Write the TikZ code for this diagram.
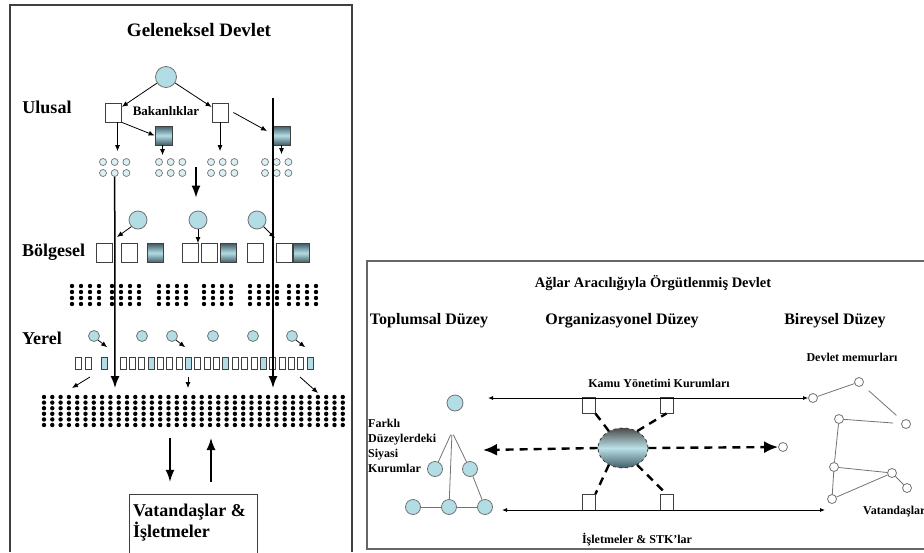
\documentclass[tikz,border=0pt]{standalone}
\usepackage{fontspec}
\setmainfont{Liberation Serif}
\usetikzlibrary{arrows.meta,positioning,shapes.geometric}
\definecolor{govcyan}{RGB}{178,221,229}
\definecolor{govslate}{RGB}{66,92,102}
\colorlet{govline}{black!55}
\colorlet{govdark}{black!75}
\colorlet{netgray}{black!60}
\tikzset{
  govtitle/.style={font=\bfseries\fontsize{19}{21}\selectfont,inner sep=0pt},
  govlabel/.style={font=\bfseries\fontsize{18}{21}\selectfont,inner sep=0pt,align=left},
  govnote/.style={font=\bfseries\fontsize{13}{15}\selectfont,inner sep=0pt},
  govbig/.style={circle,draw=govline,fill=govcyan,minimum size=21pt,inner sep=0pt,line width=0.8pt},
  govmid/.style={govbig,minimum size=18pt},
  govsmall/.style={govbig,minimum size=11pt},
  govtiny/.style={circle,draw=govline,fill=govcyan!45,minimum size=7pt,inner sep=0pt,line width=0.7pt},
  govsq/.style={rectangle,draw=govdark,fill=white,minimum width=16pt,minimum height=19pt,
                inner sep=0pt,line width=0.8pt},
  govshade/.style={govsq,top color=govslate,bottom color=govslate,middle color=govcyan},
  govslot/.style={govsq,minimum width=6pt,minimum height=12pt},
  govslotfill/.style={govslot,fill=govcyan},
  govflow/.style={-{Latex[length=6pt,width=5pt]},line width=0.8pt},
  govlong/.style={-{Latex[length=12pt,width=9pt]},line width=1.5pt},
  govframe/.style={draw=govdark,line width=1.2pt},
  govbox/.style={minimum width=127pt,minimum height=58pt,inner sep=0pt},
  nettitle/.style={font=\bfseries\fontsize{14.5}{16}\selectfont,inner sep=0pt},
  nethead/.style={font=\bfseries\fontsize{16}{18}\selectfont,inner sep=0pt},
  netnote/.style={font=\bfseries\fontsize{12}{15}\selectfont,inner sep=0pt,align=left},
  netframe/.style={draw=netgray,line width=1.6pt},
  netsoft/.style={circle,draw=govline,fill=govcyan,minimum size=16pt,inner sep=0pt,line width=0.8pt},
  netnode/.style={circle,draw=govline,fill=white,minimum size=9pt,inner sep=0pt,line width=0.8pt},
  netsq/.style={rectangle,draw=govdark,fill=white,minimum width=13pt,minimum height=16pt,
                inner sep=0pt,line width=0.8pt},
  netcore/.style={ellipse,draw=black!80,dashed,line width=0.8pt,minimum width=50pt,minimum height=40pt,
                  top color=black!70,bottom color=govslate,middle color=govcyan!90!white},
  netedge/.style={draw=govline,line width=0.8pt},
  netboth/.style={{Latex[length=5pt,width=4pt]}-{Latex[length=5pt,width=4pt]},line width=0.8pt},
  netdash/.style={line width=2.4pt,dash pattern=on 8pt off 6pt},
  netbigdash/.style={netdash,-{Latex[length=14pt,width=12pt]}}
}
\begin{document}
\begin{tikzpicture}[x=1pt,y=-1pt]
  \useasboundingbox (0,0) rectangle (924,552);

  % traditional state
  \draw[govframe] (10,552) -- (10,5) -- (352,5) -- (352,552);
  \node[govtitle] (gelTitle) at (199,30) {Geleneksel Devlet};
  \node[govlabel] (ulusal) at (47,107) {Ulusal};
  \node[govlabel,anchor=west] (bolgesel) at (22,252) {Bölgesel};
  \node[govlabel,anchor=west] (yerel) at (22,338) {Yerel};

  \node[govbig] (state) at (166,77) {};
  \node[govsq] (bak1) at (113.5,112.5) {};
  \node[govsq] (bak2) at (220,112.5) {};
  \node[govnote] (bakan) at (166,111) {Bakanlıklar};
  \node[govshade,minimum width=17pt] (bakA) at (163.5,135.5) {};
  \node[govshade,minimum width=17pt] (bakB) at (281.5,135.5) {};

  \foreach \g/\gx in {1/103,2/159,3/211,4/265}
    \foreach \c in {0,1,2}
      \foreach \r in {0,1}
        \node[govtiny] (s\g-\r-\c) at (\gx+\c*11.7,162+\r*11) {};

  \draw[govflow] (state) -- (bak1);
  \draw[govflow] (state) -- (bak2);
  \draw[govflow] (bak1.south east) -- (bakA.west);
  \coordinate (b2hit) at (267,131);
  \draw[govflow] ([xshift=5pt]bak2.east) -- (b2hit);
  \draw[govflow,shorten >=7pt] ([xshift=4pt]bak1.south) -- ([xshift=4pt]bak1.south |- s1-0-1.north);
  \draw[govflow,shorten >=3pt] ([xshift=-1pt]bakA.south) -- ([xshift=-1pt]bakA.south |- s2-0-0.north);
  \draw[govflow,shorten >=7pt] (bak2.south) -- (bak2.south |- s3-0-1.north);
  \draw[govflow,shorten >=4pt] (bakA.south -| bakB) -- (bakB |- s4-0-1.north);

  % regional level
  \node[govmid] (reg1) at (138,220) {};
  \node[govmid] (reg2) at (198,220) {};
  \node[govmid] (reg3) at (257,220) {};
  \foreach \n/\bx in {1/104.5,2/129.5,4/190,5/209,7/255,8/284}
    \node[govsq] (bsq\n) at (\bx,253) {};
  \foreach \n/\bx in {3/155.5,6/228.5,9/301}
    \node[govshade] (bsq\n) at (\bx,253) {};

  \coordinate (midtop) at (196,167);
  \draw[govlong,shorten >=13pt] (midtop) -- (midtop |- reg2.north);
  \coordinate (r1hit) at (117,237);
  \coordinate (r3hit) at (275,238);
  \draw[govflow] (reg1.225) -- (r1hit);
  \draw[govflow] (reg3.315) -- (r3hit);
  \draw[govflow] (reg2.south) -- (reg2.south |- bsq4.north);

  \foreach \gx in {72,112,159,204,250,289}
    \foreach \i in {0,...,3}
      \foreach \j in {0,...,3}
        \fill (\gx+\i*9,286+\j*6) circle (2.2);

  % local level
  \foreach \n/\yx in {1/94,2/142,3/172,4/213,5/253,6/292}
    \node[govsmall] (yer\n) at (\yx,336) {};
  \foreach \n in {1,3,6}
    \draw[govflow] (yer\n.south east) -- ([shift={(9pt,-7pt)}]yer\n.south east);
  \node[govslot] (slotA) at (78,363) {};
  \node[govslot] (slotB) at (88,363) {};
  \node[govslotfill] (slotC) at (104,363) {};
  \foreach \k in {0,...,20}
    \node[govslot] (slot\k) at (123+\k*9.35,363) {};
  \foreach \k in {3,7,11,15,20}
    \node[govslotfill] at (slot\k) {};

  \coordinate (locL1) at (90,377);
  \coordinate (locL2) at (72,388);
  \coordinate (locM1) at (188,377);
  \coordinate (locM2) at (188,388);
  \coordinate (locR1) at (300,377);
  \coordinate (locR2) at (318,393);
  \draw[govflow] (locL1) -- (locL2);
  \draw[govflow] (locM1) -- (locM2);
  \draw[govflow] (locR1) -- (locR2);

  \foreach \i in {0,...,36}
    \foreach \j in {0,...,5}
      \fill (44+\i*8.3,397+\j*5.6) circle (2.2);

  \coordinate (line1end) at (115,388);
  \coordinate (line2top) at (273,98);
  \coordinate (line2end) at (273,388);
  \draw[govlong] (s1-1-1.south) -- (line1end);
  \draw[govlong] (line2top) -- (line2end);

  % citizens
  \node[govbox] (vatbox) at (193.5,524) {};
  \draw[govframe,line width=0.9pt] (vatbox.south west) |- (vatbox.north east) -- (vatbox.south east);
  \node[govlabel,anchor=north west] (vattext) at ([shift={(3pt,-9pt)}]vatbox.north west)
    {Vatandaşlar \&\\İşletmeler};
  \coordinate (massdown) at (170,438);
  \coordinate (massup) at (211,438);
  \draw[govlong,shorten >=13pt] (massdown) -- (massdown |- vatbox.north);
  \draw[govlong,shorten <=13pt] (massup |- vatbox.north) -- (massup);

  % network state
  \draw[netframe] (367,261) rectangle (935,549);
  \node[nettitle] (agTitle) at (653,283) {Ağlar Aracılığıyla Örgütlenmiş Devlet};
  \node[nethead] (toplumsal) at (429,321) {Toplumsal Düzey};
  \node[nethead] (organiz) at (622,321) {Organizasyonel Düzey};
  \node[nethead] (bireysel) at (835,321) {Bireysel Düzey};
  \node[netnote] (memur) at (852,357) {Devlet memurları};
  \node[netnote] (kamu) at (659,383) {Kamu Yönetimi Kurumları};
  \node[netnote] (islet) at (637,540) {İşletmeler \& STK'lar};
  \node[netnote,anchor=west] (vatan) at (863,512) {Vatandaşlar};
  \node[netnote,anchor=north west] (farkli) at (368,419) {Farklı\\Düzeylerdeki\\Siyasi\\Kurumlar};

  \node[netsoft] (toptop) at (455,403) {};
  \node[netsoft,minimum size=15pt] (trimidl) at (435,469) {};
  \node[netsoft,minimum size=15pt] (trimidr) at (470,469) {};
  \node[netsoft,minimum size=15pt] (tribl) at (413,507) {};
  \node[netsoft,minimum size=15pt] (tribm) at (449,507) {};
  \node[netsoft,minimum size=15pt] (tribr) at (485,507) {};
  \coordinate (apex) at (452,432);
  \draw[netedge,shorten <=3pt] (apex) -- (trimidl);
  \draw[netedge,shorten <=3pt] (apex) -- (tribm);
  \draw[netedge,shorten <=3pt] (apex) -- (trimidr);
  \draw[netedge] (trimidr) -- (tribr);
  \draw[netedge] (tribl) -- (tribm);
  \draw[netedge] (tribm) -- (tribr);

  \node[netsq] (kamu1) at (588.5,405) {};
  \node[netsq] (kamu2) at (666.5,405) {};
  \node[netsq] (isl1) at (588.5,502.5) {};
  \node[netsq] (isl2) at (666.5,502.5) {};
  \node[netcore] (core) at (623,448) {};
  \draw[netdash] (core.130) -- (kamu1.south east);
  \draw[netdash] (core.50) -- (kamu2.south);
  \draw[netdash] (core.230) -- (isl1.north east);
  \draw[netdash] (core.310) -- (isl2.north);

  \node[netnode] (n1) at (813,398) {};
  \node[netnode] (n2) at (859,382) {};
  \node[netnode] (n3) at (839,419) {};
  \node[netnode] (n4) at (906,424) {};
  \node[netnode] (n5) at (834,467) {};
  \node[netnode] (n6) at (892,473) {};
  \node[netnode] (n7) at (907,488) {};
  \node[netnode] (n8) at (832,499) {};
  \node[netnode] (citydot) at (783,447) {};
  \draw[netedge] (n1) -- (n2);
  \draw[netedge,shorten <=8pt,shorten >=8pt] (n2) -- (n4);
  \draw[netedge,shorten >=8pt] (n3) -- (n4);
  \draw[netedge] (n3) -- (n5);
  \draw[netedge] (n5) -- (n6);
  \draw[netedge] (n5) -- (n8);
  \draw[netedge] (n8) -- (n6);
  \draw[netedge] (n6) -- (n7);

  \coordinate (kamuL) at (488,398);
  \coordinate (islL) at (502,510);
  \coordinate (islR) at (825,510);
  \coordinate (tritip) at (483,450);
  \draw[netboth] (kamuL) -- (n1);
  \draw[netboth] (islL) -- (islR);
  \draw[netbigdash] (core.west) -- (tritip);
  \draw[netbigdash] (core.east) -- (citydot);
\end{tikzpicture}
\end{document}
